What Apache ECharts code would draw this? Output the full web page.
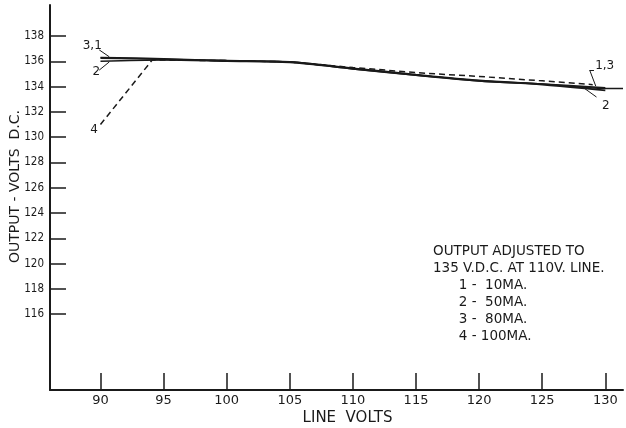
<!DOCTYPE html>
<html><head><meta charset="utf-8">
<script src="https://cdn.jsdelivr.net/npm/echarts@6/dist/echarts.min.js"></script>
<style>html,body{margin:0;padding:0;background:#fff}#c{width:626px;height:428px}</style>
</head><body><div id="c"></div>
<script>
const xTicks = [90, 95, 100, 105, 110, 115, 120, 125, 130];
const yTicks = [116, 118, 120, 122, 124, 126, 128, 130, 132, 134, 136, 138];
const curve1 = [[90,136.3],[95,136.2],[100,136.05],[105,135.95],[110,135.45],[115,134.95],[120,134.5],[125,134.2],[130,133.85],[131.4,133.85]];
const curve2 = [[90,136.0],[95,136.1],[100,136.0],[105,135.9],[110,135.4],[115,134.9],[120,134.45],[125,134.15],[130,133.7]];
const curve3 = [[90,136.25],[95,136.15],[100,136.05],[105,135.95],[110,135.4],[115,134.9],[120,134.45],[125,134.2],[130,133.9]];
const curve4 = [[90,131.0],[94.1,136.1],[100,136.05],[105,135.95],[110,135.5],[112,135.35],[115,135.1],[120,134.8],[125,134.45],[129,134.15]];
const noteLines = ['OUTPUT ADJUSTED TO','135 V.D.C. AT 110V. LINE.','      1 -  10MA.','      2 -  50MA.','      3 -  80MA.','      4 - 100MA.'];

const font = 'DejaVu Sans';
const condensed = '"DejaVu Sans Condensed", "Liberation Sans Narrow", "DejaVu Sans"';
const ink = '#1a1a1a';
const chart = echarts.init(document.getElementById('c'));

function tag(coord, text) {
  return {coord: coord, symbol: 'circle', symbolSize: 1, itemStyle: {color: 'rgba(0,0,0,0)'},
    label: {show: true, formatter: text, position: 'inside', color: ink, fontFamily: font, fontSize: 12}};
}
const leader = {silent: true, symbol: ['none', 'none'], lineStyle: {color: ink, width: 1, type: 'solid'}, label: {show: false}, emphasis: {disabled: true}};

chart.setOption({
  animation: false,
  backgroundColor: '#fff',
  grid: {left: 50, right: 3, top: 5, bottom: 38, outerBoundsMode: 'none', containLabel: false},
  xAxis: {
    type: 'value', min: 86, max: 131.4,
    name: 'LINE  VOLTS', nameLocation: 'middle', nameGap: 21, nameMoveOverlap: false,
    nameTextStyle: {color: ink, fontFamily: font, fontSize: 15, padding: [0, 0, 0, 22]},
    axisLine: {show: true, lineStyle: {color: ink, width: 2}},
    axisTick: {show: true, customValues: xTicks, inside: true, length: 17, lineStyle: {color: ink, width: 1.5}},
    axisLabel: {customValues: xTicks, color: ink, fontFamily: font, fontSize: 13, margin: 4},
    splitLine: {show: false}
  },
  yAxis: {
    type: 'value', min: 110, max: 140.45,
    name: 'OUTPUT - VOLTS  D.C.', nameLocation: 'middle', nameGap: 28, nameRotate: 90, nameMoveOverlap: false,
    nameTextStyle: {color: ink, fontFamily: font, fontSize: 14, padding: [0, 0, 0, 22]},
    axisLine: {show: true, lineStyle: {color: ink, width: 2}},
    axisTick: {show: true, customValues: yTicks, inside: true, length: 16, lineStyle: {color: ink, width: 1.5}},
    axisLabel: {customValues: yTicks, color: ink, fontFamily: condensed, fontSize: 11.5, margin: 6},
    splitLine: {show: false}
  },
  series: [
    {name: '1 - 10MA.', type: 'line', data: curve1, smooth: 0.3, showSymbol: false, lineStyle: {color: ink, width: 1.6},
     markPoint: {silent: true, data: [tag([89.35, 137.2], '3,1'), tag([129.95, 135.6], '1,3')]},
     markLine: Object.assign({}, leader, {data: [
       [{coord: [89.9, 136.9]}, {coord: [90.7, 136.35]}],
       [{coord: [128.76, 135.3]}, {coord: [129.24, 134.04]}],
       [{coord: [128.76, 135.3]}, {coord: [129.1, 135.3]}]
     ]})},
    {name: '2 - 50MA.', type: 'line', data: curve2, smooth: 0.3, showSymbol: false, lineStyle: {color: ink, width: 1.6},
     markPoint: {silent: true, data: [tag([89.67, 135.2], '2'), tag([130.03, 132.5], '2')]},
     markLine: Object.assign({}, leader, {data: [
       [{coord: [89.9, 135.3]}, {coord: [90.7, 135.95]}],
       [{coord: [129.3, 133.17]}, {coord: [128.2, 133.96]}]
     ]})},
    {name: '3 - 80MA.', type: 'line', data: curve3, smooth: 0.3, showSymbol: false, lineStyle: {color: ink, width: 1.6}},
    {name: '4 - 100MA.', type: 'line', data: curve4, smooth: false, showSymbol: false, lineStyle: {color: ink, width: 1.5, type: [6, 4]},
     markPoint: {silent: true, data: [tag([89.5, 130.55], '4')]}}
  ],
  graphic: [{
    type: 'text', left: 433, top: 243,
    style: {text: noteLines.join('\n'), fill: ink, font: '13.5px "DejaVu Sans"', lineHeight: 17}
  }]
});
</script></body></html>
